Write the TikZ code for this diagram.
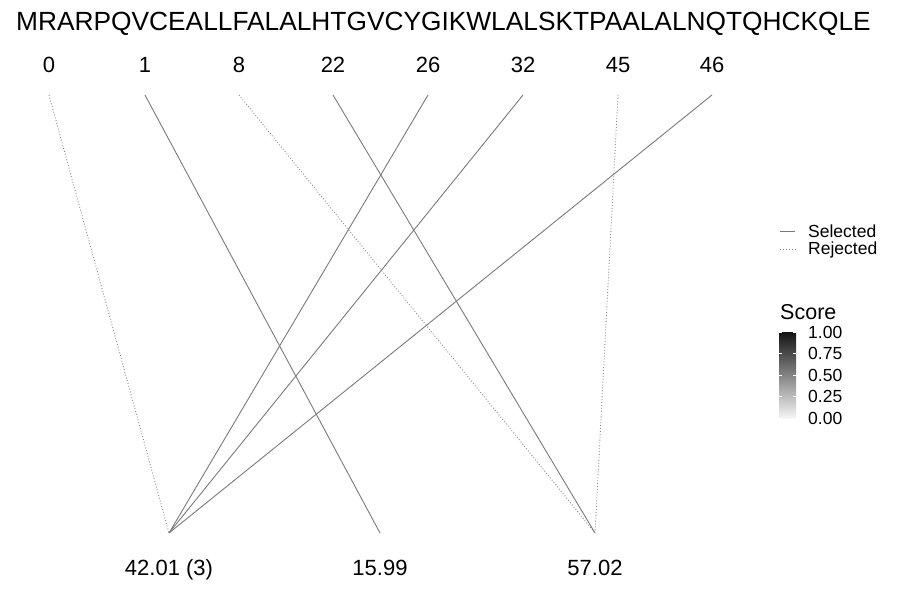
\documentclass[tikz,border=0pt]{standalone}
\usepackage{fontspec}
\setmainfont{Liberation Sans}
\usepackage{xcolor}
\usepackage{tikz}
\usetikzlibrary{positioning, calc}
\definecolor{linkgray}{HTML}{7A7A7A}
\definecolor{dotgray}{HTML}{888888}
\definecolor{scorehigh}{HTML}{131313}
\definecolor{scorelow}{HTML}{F5F5F5}

\tikzset{
  seqtext/.style={font=\fontsize{26.3}{30}\selectfont, inner sep=0pt, anchor=base},
  sitelabel/.style={font=\fontsize{22}{26}\selectfont, inner sep=0pt, anchor=base},
  masslabel/.style={font=\fontsize{22}{26}\selectfont, inner sep=0pt, anchor=base},
  legendtext/.style={font=\fontsize{17.5}{20}\selectfont, inner sep=0pt, anchor=base west},
  selected/.style={draw=linkgray, line width=0.9pt},
  rejected/.style={draw=dotgray, line width=0.9pt, dash pattern=on 0.9pt off 2pt},
  barmark/.style={draw=white, line width=0.6pt}
}

\begin{document}
\begin{tikzpicture}[x=1pt, y=-1pt]
  \useasboundingbox (0,0) rectangle (900,600);

  % sequence and site positions
  \node[seqtext] (seq) at (443.5,30) {MRARPQVCEALLFALALHTGVCYGIKWLALSKTPAALALNQTQHCKQLE};
  \foreach \site/\x in {0/49, 1/145, 8/239, 22/333, 26/428, 32/523, 45/618, 46/712} {
    \node[sitelabel] (site\site) at (\x,72) {\site};
    \coordinate (top\site) at (\x,95);
  }

  % mass shifts
  \node[masslabel] (mass42) at (169,575) {42.01 (3)};
  \node[masslabel] (mass16) at (380,575) {15.99};
  \node[masslabel] (mass57) at (595,575) {57.02};
  \coordinate (bot42) at (169,533);
  \coordinate (bot16) at (380,533);
  \coordinate (bot57) at (595,533);

  % links
  \draw[rejected] (top0) -- (bot42);
  \draw[selected] (top1) -- (bot16);
  \draw[rejected] (top8) -- (bot57);
  \draw[selected] (top22) -- (bot57);
  \draw[selected] (top26) -- (bot42);
  \draw[selected] (top32) -- (bot42);
  \draw[rejected] (top45) -- (bot57);
  \draw[selected] (top46) -- (bot42);

  % legend
  \coordinate (selA) at (780,231);
  \coordinate (selB) at (795,231);
  \coordinate (rejA) at (780,249);
  \coordinate (rejB) at (795,249);
  \draw[selected] (selA) -- (selB);
  \draw[rejected] (rejA) -- (rejB);
  \node[legendtext] (selname) at (808,237) {Selected};
  \node[legendtext] (rejname) at (808,254) {Rejected};

  % score colour bar
  \node[legendtext, font=\fontsize{21.5}{24}\selectfont] (scorename) at (780,319) {Score};
  \shade[top color=scorehigh, bottom color=scorelow] (779,332) rectangle (796,418);
  \foreach \val/\y in {1.00/332, 0.75/353.5, 0.50/375, 0.25/396.5, 0.00/418} {
    \draw[barmark] (779,\y) -- (782,\y);
    \draw[barmark] (793,\y) -- (796,\y);
    \node[legendtext, anchor=west] (tick\y) at (808,\y) {\val};
  }
\end{tikzpicture}
\end{document}
